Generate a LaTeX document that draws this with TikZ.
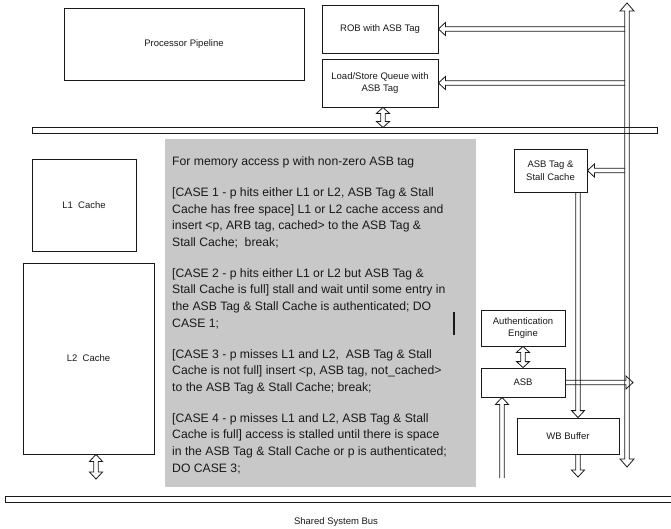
\documentclass[tikz,border=0pt]{standalone}
\usepackage{fontspec}
\setmainfont{Liberation Sans}
\usetikzlibrary{calc}
\definecolor{boxgray}{RGB}{200,200,200}
\definecolor{ink}{RGB}{25,25,25}
\tikzset{
  shaftw/.store in=\sw, headw/.store in=\hw, headl/.store in=\hl,
  shaftw=2.2pt, headw=6.5pt, headl=7pt,
  blk/.style={draw=ink, line width=0.8pt, inner sep=0pt, text=ink, align=center,
    font=\fontsize{9.5}{12.5}\selectfont},
  lbl/.style={inner sep=0pt, text=ink, font=\fontsize{9.5}{12.5}\selectfont},
  barrow/.style={draw=ink, line width=0.8pt, to path={
    ($(\tikztostart)!\sw!90:(\tikztotarget)$)
    -- ($($(\tikztotarget)!\hl!(\tikztostart)$)!\sw!90:(\tikztotarget)$)
    -- ($($(\tikztotarget)!\hl!(\tikztostart)$)!\hw!90:(\tikztotarget)$)
    -- (\tikztotarget)
    -- ($($(\tikztotarget)!\hl!(\tikztostart)$)!\hw!-90:(\tikztotarget)$)
    -- ($($(\tikztotarget)!\hl!(\tikztostart)$)!\sw!-90:(\tikztotarget)$)
    -- ($(\tikztostart)!\sw!-90:(\tikztotarget)$)
  }},
  dbarrow/.style={draw=ink, line width=0.8pt, to path={
    (\tikztostart)
    -- ($($(\tikztostart)!\hl!(\tikztotarget)$)!\hw!90:(\tikztotarget)$)
    -- ($($(\tikztostart)!\hl!(\tikztotarget)$)!\sw!90:(\tikztotarget)$)
    -- ($($(\tikztotarget)!\hl!(\tikztostart)$)!\sw!90:(\tikztotarget)$)
    -- ($($(\tikztotarget)!\hl!(\tikztostart)$)!\hw!90:(\tikztotarget)$)
    -- (\tikztotarget)
    -- ($($(\tikztotarget)!\hl!(\tikztostart)$)!\hw!-90:(\tikztotarget)$)
    -- ($($(\tikztotarget)!\hl!(\tikztostart)$)!\sw!-90:(\tikztotarget)$)
    -- ($($(\tikztostart)!\hl!(\tikztotarget)$)!\sw!-90:(\tikztotarget)$)
    -- ($($(\tikztostart)!\hl!(\tikztotarget)$)!\hw!-90:(\tikztotarget)$)
    -- cycle
  }},
}
\begin{document}
\begin{tikzpicture}[x=1pt,y=-1pt]
\useasboundingbox[fill=white] (0,0) rectangle (671,528);

% gray text panel
\node[fill=boxgray, inner sep=0pt, minimum width=311pt, minimum height=348pt] (panel) at (320.5,313) {};
\node[anchor=base west, inner sep=0pt, text=ink] (txt) at (172,165.4) {\parbox[t]{420pt}{\fontsize{12.2}{16.6}\selectfont\raggedright
For memory access p with non-zero ASB tag\\[14.4pt]
[CASE 1 - p hits either L1 or L2, ASB Tag \& Stall\\
Cache has free space] L1 or L2 cache access and\\
insert <p, ARB tag, cached> to the ASB Tag \&\\
Stall Cache;~ break;\\[14.4pt]
[CASE 2 - p hits either L1 or L2 but ASB Tag \&\\
Stall Cache is full] stall and wait until some entry in\\
the ASB Tag \& Stall Cache is authenticated; DO\\
CASE 1;\\[14.4pt]
[CASE 3 - p misses L1 and L2,~ ASB Tag \& Stall\\
Cache is not full] insert <p, ASB tag, not\_cached>\\
to the ASB Tag \& Stall Cache; break;\\[14.4pt]
[CASE 4 - p misses L1 and L2, ASB Tag \& Stall\\
Cache is full] access is stalled until there is space\\
in the ASB Tag \& Stall Cache or p is authenticated;\\
DO CASE 3;}};
\coordinate (cur1) at (454,312);
\coordinate (cur2) at (454,335);
\draw[ink, line width=1.1pt] (cur1) -- (cur2);

% boxes
\node[blk, minimum width=240pt, minimum height=72pt] (pipe) at (184,44) {Processor Pipeline};
\node[blk, minimum width=116pt, minimum height=48pt] (rob) at (380,29) {ROB with ASB Tag};
\node[blk, minimum width=116pt, minimum height=48pt] (lsq) at (380,83) {Load/Store Queue with\\ASB Tag};
\node[blk, minimum width=104pt, minimum height=92pt] (l1) at (84,205) {L1\ \ Cache};
\node[blk, minimum width=131pt, minimum height=191pt] (l2) at (88.5,358.5) {L2\ \ Cache};
\node[blk, minimum width=73pt, minimum height=43pt] (tagc) at (550.5,170.5) {ASB Tag \&\\Stall Cache};
\node[blk, minimum width=84pt, minimum height=36pt] (auth) at (523,328) {Authentication\\Engine};
\node[blk, minimum width=84pt, minimum height=29pt] (asb) at (523,382.5) {ASB};
\node[blk, minimum width=102pt, minimum height=36pt] (wb) at (568,436) {WB Buffer};

% buses
\node[draw=ink, line width=0.8pt, inner sep=0pt, minimum width=625pt, minimum height=5.5pt] (ubus) at (344.5,130.5) {};
\node[draw=ink, line width=0.8pt, inner sep=0pt, minimum width=690pt, minimum height=6.5pt] (lbus) at (350,499.5) {};
\node[lbl] (busl) at (336,522) {Shared System Bus};

% connector coordinates
\coordinate (vtop) at (627,3);
\coordinate (vbot) at (627,467);
\coordinate (robsrc) at (625,29);
\coordinate (lsqsrc) at (625,83);
\coordinate (tagsrc) at (625,170.5);
\coordinate (lsqa) at ($(lsq.south)+(3,0)$);
\coordinate (lsqb) at (383,127.5);
\coordinate (tw1) at ($(tagc.south)+(27.5,0)$);
\coordinate (tw2) at ($(wb.north)+(10,0)$);
\coordinate (wbd1) at ($(wb.south)+(10,0)$);
\coordinate (wbd2) at (578,477);
\coordinate (asbout) at (633,382.5);
\coordinate (asbin1) at (502,478);
\coordinate (asbin2) at ($(asb.south)+(-21,0)$);
\coordinate (l2a) at ($(l2.south)+(7.5,0)$);
\coordinate (l2b) at (96,479);

% connectors
\draw[dbarrow, headw=7pt, headl=8pt] (vtop) to (vbot);
\draw[barrow] (robsrc) to (rob.east);
\draw[barrow] (lsqsrc) to (lsq.east);
\draw[barrow] (tagsrc) to (tagc.east);
\draw[dbarrow, headl=6pt] (lsqa) to (lsqb);
\draw[barrow] (tw1) to (tw2);
\draw[barrow] (wbd1) to (wbd2);
\draw[dbarrow, headl=6pt] (auth.south) to (asb.north);
\draw[barrow] (asb.east) to (asbout);
\draw[barrow] (asbin1) to (asbin2);
\draw[dbarrow, headl=7pt] (l2a) to (l2b);
\end{tikzpicture}
\end{document}
